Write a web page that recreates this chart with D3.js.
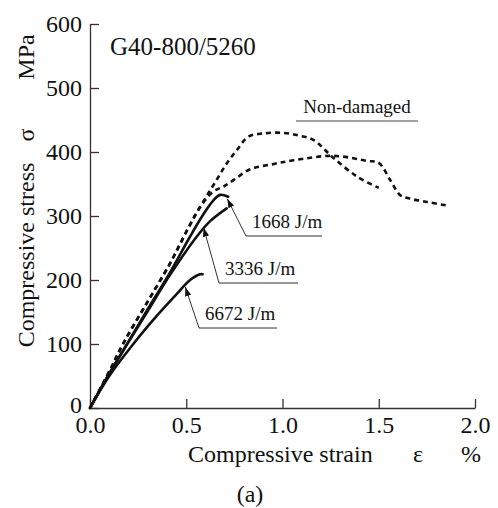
<!DOCTYPE html>
<html>
<head>
<meta charset="utf-8">
<script src="https://cdn.jsdelivr.net/npm/d3@7"></script>
<style>
  body { margin: 0; background: #fff; }
  svg { display: block; }
  text { font-family: "Liberation Serif", "Times New Roman", serif; fill: #111; }
</style>
</head>
<body>
<svg id="chart" width="498" height="508"></svg>
<script>
// данные (деформация %, напряжение МПа)
const undamagedAStrain = [0, 0.1, 0.173, 0.295, 0.416, 0.51, 0.572, 0.624, 0.667, 0.71, 0.763, 0.823, 0.9, 1.0, 1.08, 1.16, 1.26, 1.39, 1.5];
const undamagedAStress = [0, 57, 101, 164, 226, 281, 314, 340, 361, 382, 403, 424, 429, 430, 426, 419, 392, 361, 344];

const undamagedBStrain = [0, 0.1, 0.173, 0.295, 0.416, 0.51, 0.572, 0.64, 0.693, 0.745, 0.832, 0.95, 1.057, 1.264, 1.44, 1.5, 1.56, 1.61, 1.65, 1.75, 1.86];
const undamagedBStress = [0, 57, 101, 164, 226, 281, 314, 338, 346, 356, 373, 381, 387, 394, 386, 383, 356, 333, 328, 322, 316];

const e1668Strain = [0, 0.087, 0.2, 0.295, 0.416, 0.52, 0.59, 0.64, 0.676, 0.718];
const e1668Stress = [0, 47, 104, 152, 212, 268, 303, 324, 333, 330];

const e3336Strain = [0, 0.087, 0.2, 0.295, 0.416, 0.555, 0.624, 0.71];
const e3336Stress = [0, 47, 103, 149, 208, 268, 292, 312];

const e6672Strain = [0, 0.1, 0.225, 0.35, 0.45, 0.52, 0.572, 0.585];
const e6672Stress = [0, 50, 100, 145, 178, 200, 209, 209];

const xTicks = [0, 0.5, 1.0, 1.5, 2.0];
const yTicks = [0, 100, 200, 300, 400, 500, 600];

// подписи к кривым: текст, точка стрелки на кривой (strain, stress)
const energyLabels = ["1668 J/m", "3336 J/m", "6672 J/m"];
const arrowStrain = [0.713, 0.59, 0.495];
const arrowStress = [330, 285, 192];

const svg = d3.select("#chart");
const x = d3.scaleLinear().domain([0, 2]).range([90, 475]);
const y = d3.scaleLinear().domain([0, 600]).range([408, 24]);

const zip = (a, b) => a.map((v, i) => [v, b[i]]);
const line = d3.line().x(d => x(d[0])).y(d => y(d[1])).curve(d3.curveCatmullRom.alpha(0.5));

// оси, засечки внутрь
const gx = svg.append("g")
  .attr("transform", `translate(0,${y(0)})`)
  .call(d3.axisBottom(x).tickValues(xTicks).tickFormat(d3.format(".1f")).tickSizeInner(-9).tickSizeOuter(0).tickPadding(8));
const gy = svg.append("g")
  .attr("transform", `translate(${x(0)},0)`)
  .call(d3.axisLeft(y).tickValues(yTicks).tickSizeInner(-9).tickSizeOuter(0).tickPadding(8));

[gx, gy].forEach(g => {
  g.select(".domain").attr("stroke", "#333").attr("stroke-width", 1.3);
  g.selectAll(".tick line").attr("stroke", "#333").attr("stroke-width", 1.3);
  g.selectAll(".tick text").attr("font-size", 24).attr("fill", "#111");
});
// "0" по оси y чуть выше, как на оригинале
gy.select(".tick text").attr("dy", "0.2em");

// кривые
const dashed = [zip(undamagedAStrain, undamagedAStress), zip(undamagedBStrain, undamagedBStress)];
const solid = [zip(e1668Strain, e1668Stress), zip(e3336Strain, e3336Stress), zip(e6672Strain, e6672Stress)];

svg.selectAll(".dash").data(dashed).enter().append("path")
  .attr("class", "dash")
  .attr("d", line)
  .attr("fill", "none").attr("stroke", "#111").attr("stroke-width", 2.6)
  .attr("stroke-dasharray", "5,4");

svg.selectAll(".solid").data(solid).enter().append("path")
  .attr("class", "solid")
  .attr("d", line)
  .attr("fill", "none").attr("stroke", "#111").attr("stroke-width", 2.6)
  .attr("stroke-linecap", "round");

// подписи энергий удара со стрелками
const labelX = [252, 225, 205];
const labelY = [228, 275, 320];
const labelW = [76, 79, 78];

svg.append("defs").append("marker")
  .attr("id", "arr").attr("viewBox", "0 0 10 10").attr("refX", 10).attr("refY", 5)
  .attr("markerWidth", 9).attr("markerHeight", 9).attr("markerUnits", "userSpaceOnUse").attr("orient", "auto")
  .append("path").attr("d", "M0,1.5 L10,5 L0,8.5 Z").attr("fill", "#111");

energyLabels.forEach((t, i) => {
  const ux = labelX[i] - 6;
  const uy = labelY[i] + 8;
  svg.append("line")
    .attr("x1", ux).attr("y1", uy).attr("x2", ux + labelW[i]).attr("y2", uy)
    .attr("stroke", "#333").attr("stroke-width", 1);
  svg.append("line")
    .attr("x1", ux).attr("y1", uy)
    .attr("x2", x(arrowStrain[i])).attr("y2", y(arrowStress[i]) + 2)
    .attr("stroke", "#333").attr("stroke-width", 1)
    .attr("marker-end", "url(#arr)");
  svg.append("text").attr("x", labelX[i]).attr("y", labelY[i])
    .attr("font-size", 19).text(t);
});

// Non-damaged
svg.append("text").attr("x", 357).attr("y", 113).attr("text-anchor", "middle")
  .attr("font-size", 19).text("Non-damaged");
svg.append("line").attr("x1", 296).attr("x2", 418).attr("y1", 121).attr("y2", 121)
  .attr("stroke", "#444").attr("stroke-width", 1);

svg.append("text").attr("x", 110).attr("y", 55).attr("font-size", 25).text("G40-800/5260");

// подписи осей
svg.append("text").attr("x", 188).attr("y", 462).attr("font-size", 24).text("Compressive  strain");
svg.append("text").attr("x", 418).attr("y", 462).attr("font-size", 24).attr("text-anchor", "middle").text("ε");
svg.append("text").attr("x", 471).attr("y", 462).attr("font-size", 24).attr("text-anchor", "middle").text("%");

const yt = (txt, cy) => svg.append("text")
  .attr("transform", `translate(34,${cy}) rotate(-90)`)
  .attr("text-anchor", "middle").attr("font-size", 24).text(txt);
yt("Compressive  stress", 255);
yt("σ", 135);
yt("MPa", 57);

svg.append("text").attr("x", 250).attr("y", 502).attr("text-anchor", "middle").attr("font-size", 24).text("(a)");
</script>
</body>
</html>
